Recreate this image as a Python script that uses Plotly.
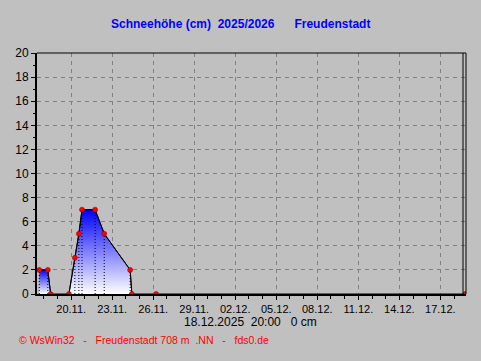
import plotly.graph_objects as go

# ---- data ----
times = ["2025-11-17 16:00", "2025-11-18 07:00", "2025-11-18 12:00",
         "2025-11-19 20:00", "2025-11-20 06:30", "2025-11-20 13:30",
         "2025-11-20 19:00", "2025-11-21 18:00", "2025-11-22 10:00",
         "2025-11-24 07:30", "2025-11-24 10:30", "2025-11-26 05:00",
         "2025-12-18 20:00"]
snow_cm = [2, 2, 0, 0, 3, 5, 7, 7, 5, 2, 0, 0, 0]
segment_id = [1, 1, 1, 2, 2, 2, 2, 2, 2, 2, 2, 3, 3]

tick_dates = ["2025-11-20", "2025-11-23", "2025-11-26", "2025-11-29",
              "2025-12-02", "2025-12-05", "2025-12-08", "2025-12-11",
              "2025-12-14", "2025-12-17"]
tick_labels = ["20.11.", "23.11.", "26.11.", "29.11.", "02.12.", "05.12.",
               "08.12.", "11.12.", "14.12.", "17.12."]
y_ticks = list(range(0, 21, 2))

title_text = "Schneehöhe (cm)\u00a0\u00a02025/2026\u00a0\u00a0\u00a0\u00a0\u00a0\u00a0Freudenstadt"
stamp_text = "18.12.2025\u00a0\u00a020:00\u00a0\u00a0\u00a00\u00a0cm"
footer_text = ("©\u00a0WsWin32\u00a0\u00a0\u00a0-\u00a0\u00a0\u00a0Freudenstadt\u00a0708\u00a0m"
               "\u00a0\u00a0.NN\u00a0\u00a0\u00a0-\u00a0\u00a0\u00a0fds0.de")

x_start = "2025-11-17 12:00"
x_end = "2025-12-18 21:00"

BG = "#c0c0c0"
FONT = "Liberation Sans, Arial, sans-serif"

fig = go.Figure()

# gradient-filled areas, one per snow episode
for seg in sorted(set(segment_id)):
    xs = [t for t, s in zip(times, segment_id) if s == seg]
    ys = [v for v, s in zip(snow_cm, segment_id) if s == seg]
    top = max(ys)
    if top > 0:
        fig.add_trace(go.Scatter(
            x=xs, y=ys, mode="lines", fill="tozeroy",
            fillgradient=dict(type="vertical", start=0, stop=top,
                              colorscale=[[0, "#ffffff"], [1, "#0000ff"]]),
            line=dict(color="black", width=1), hoverinfo="skip",
            showlegend=False))

# dotted drop lines from each reading above zero
dx, dy = [], []
for t, v in zip(times, snow_cm):
    if v > 0:
        dx += [t, t, None]
        dy += [0, v, None]
fig.add_trace(go.Scatter(x=dx, y=dy, mode="lines",
                         line=dict(color="black", width=1, dash="1px,2px"),
                         hoverinfo="skip", showlegend=False))

# full line + markers
fig.add_trace(go.Scatter(x=times, y=snow_cm, mode="lines+markers",
                         line=dict(color="black", width=1),
                         marker=dict(color="#ff0000", size=5,
                                     line=dict(color="#800000", width=0.5)),
                         showlegend=False))

fig.update_xaxes(
    type="date", range=[x_start, x_end],
    tickvals=tick_dates, ticktext=tick_labels,
    tickfont=dict(family=FONT, size=11, color="black"),
    ticks="outside", ticklen=4, tickcolor="black", tickwidth=1,
    minor=dict(dtick=86400000, ticks="outside", ticklen=3,
               tickcolor="black", showgrid=False),
    showgrid=True, gridcolor="#808080", griddash="4px,4px", gridwidth=1,
    showline=True, linecolor="black", linewidth=2, mirror=False,
    zeroline=False, fixedrange=True,
)
fig.update_yaxes(
    range=[0, 20], tickvals=y_ticks,
    tickfont=dict(family=FONT, size=12, color="black"),
    ticks="outside", ticklen=4, tickcolor="black", tickwidth=1,
    minor=dict(dtick=1, ticks="outside", ticklen=2,
               tickcolor="black", showgrid=False),
    showgrid=True, gridcolor="#808080", griddash="4px,4px", gridwidth=1,
    showline=True, linecolor="black", linewidth=2,
    zeroline=False, fixedrange=True,
)

# frame: top line and double right line
fig.add_shape(type="line", xref="paper", yref="paper", x0=0, x1=1, y0=1, y1=1,
              line=dict(color="black", width=1))
fig.add_shape(type="line", xref="paper", yref="paper", x0=1, x1=1, y0=0, y1=1,
              line=dict(color="black", width=1))
fig.add_shape(type="line", xref="paper", yref="paper",
              x0=1 - 3 / 429, x1=1 - 3 / 429, y0=0, y1=1,
              line=dict(color="black", width=1))

fig.add_annotation(text=title_text, xref="paper", yref="paper",
                   x=(240 - 37) / 429, y=1 + (53 - 24) / 241,
                   xanchor="center", yanchor="middle", showarrow=False,
                   font=dict(family=FONT, size=12, color="#0000ff", weight="bold"))
fig.add_annotation(text=stamp_text, xref="paper", yref="paper",
                   x=(250 - 37) / 429, y=-(322 - 294) / 241,
                   xanchor="center", yanchor="middle", showarrow=False,
                   font=dict(family=FONT, size=12, color="black"))
fig.add_annotation(text=footer_text, xref="paper", yref="paper",
                   x=(17 - 37) / 429, y=-(340 - 294) / 241,
                   xanchor="left", yanchor="middle", showarrow=False,
                   font=dict(family=FONT, size=10.5, color="#ff0000"))

fig.update_layout(
    width=481, height=361,
    margin=dict(l=37, r=15, t=53, b=67, autoexpand=False),
    paper_bgcolor=BG, plot_bgcolor=BG,
    showlegend=False, hovermode=False,
)

fig.write_html("out.html", config={"displayModeBar": False})
